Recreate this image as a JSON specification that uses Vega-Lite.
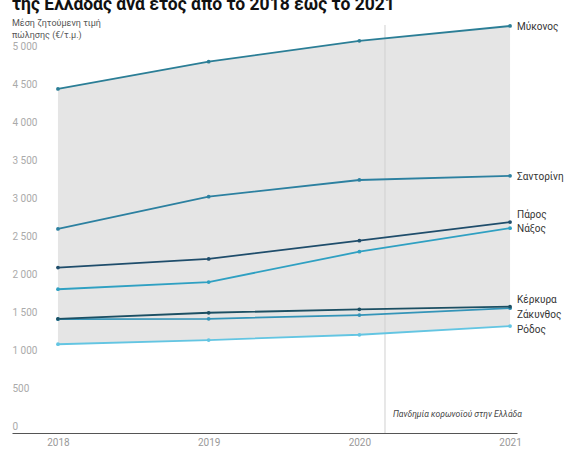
{
  "$schema": "https://vega.github.io/schema/vega-lite/v6.json",
  "autosize": "none",
  "width": 505,
  "height": 408,
  "padding": {"left": 12, "top": 25, "right": 63, "bottom": 27},
  "background": "white",
  "config": {"view": {"stroke": null}, "font": "Roboto"},
  "title": {
    "text": "της Ελλάδας ανά έτος από το 2018 έως το 2021",
    "subtitle": ["Μέση ζητούμενη τιμή", "πώλησης (€/τ.μ.)"],
    "anchor": "start",
    "frame": "group",
    "fontSize": 17.5,
    "fontWeight": "bold",
    "color": "#111111",
    "subtitleFontSize": 9,
    "subtitleColor": "#555555",
    "subtitlePadding": 5,
    "subtitleLineHeight": 12,
    "offset": -18
  },
  "datasets": {
    "prices": [
      {"island": "Μύκονος", "year": 2018, "price": 4535},
      {"island": "Μύκονος", "year": 2019, "price": 4895},
      {"island": "Μύκονος", "year": 2020, "price": 5170},
      {"island": "Μύκονος", "year": 2021, "price": 5365},
      {"island": "Σαντορίνη", "year": 2018, "price": 2690},
      {"island": "Σαντορίνη", "year": 2019, "price": 3115},
      {"island": "Σαντορίνη", "year": 2020, "price": 3335},
      {"island": "Σαντορίνη", "year": 2021, "price": 3390},
      {"island": "Νάξος", "year": 2018, "price": 1895},
      {"island": "Νάξος", "year": 2019, "price": 1990},
      {"island": "Νάξος", "year": 2020, "price": 2390},
      {"island": "Νάξος", "year": 2021, "price": 2700},
      {"island": "Πάρος", "year": 2018, "price": 2180},
      {"island": "Πάρος", "year": 2019, "price": 2295},
      {"island": "Πάρος", "year": 2020, "price": 2535},
      {"island": "Πάρος", "year": 2021, "price": 2780},
      {"island": "Ρόδος", "year": 2018, "price": 1170},
      {"island": "Ρόδος", "year": 2019, "price": 1225},
      {"island": "Ρόδος", "year": 2020, "price": 1295},
      {"island": "Ρόδος", "year": 2021, "price": 1410},
      {"island": "Ζάκυνθος", "year": 2018, "price": 1500},
      {"island": "Ζάκυνθος", "year": 2019, "price": 1505},
      {"island": "Ζάκυνθος", "year": 2020, "price": 1555},
      {"island": "Ζάκυνθος", "year": 2021, "price": 1645},
      {"island": "Κέρκυρα", "year": 2018, "price": 1505},
      {"island": "Κέρκυρα", "year": 2019, "price": 1585},
      {"island": "Κέρκυρα", "year": 2020, "price": 1630},
      {"island": "Κέρκυρα", "year": 2021, "price": 1665}
    ],
    "notes": [
      {"year": 2020.17, "price": 254, "label": "Πανδημία κορωνοϊού στην Ελλάδα"}
    ]
  },
  "encoding": {
    "x": {
      "field": "year",
      "type": "quantitative",
      "scale": {"domain": [2017.695, 2021.046], "nice": false, "zero": false},
      "axis": {
        "values": [2018, 2019, 2020, 2021],
        "format": "d",
        "title": null,
        "grid": false,
        "ticks": false,
        "tickSize": 0,
        "labelPadding": 4,
        "labelColor": "#999999",
        "labelFontSize": 10,
        "domainColor": "#555555",
        "domainWidth": 1.2
      }
    },
    "y": {
      "field": "price",
      "type": "quantitative",
      "scale": {"domain": [0, 5378], "nice": false, "zero": true},
      "axis": {
        "values": [0, 500, 1000, 1500, 2000, 2500, 3000, 3500, 4000, 4500, 5000],
        "labelExpr": "replace(format(datum.value, ','), ',', ' ')",
        "title": null,
        "grid": false,
        "domain": false,
        "ticks": false,
        "tickSize": 0,
        "labelAlign": "left",
        "labelBaseline": "alphabetic",
        "labelPadding": 0,
        "labelOffset": -4,
        "labelColor": "#aaaaaa",
        "labelFontSize": 10
      }
    }
  },
  "layer": [
    {
      "data": {"name": "prices"},
      "transform": [
        {"aggregate": [
          {"op": "max", "field": "price", "as": "hi"},
          {"op": "min", "field": "price", "as": "lo"}
        ], "groupby": ["year"]}
      ],
      "mark": {"type": "area", "color": "#e5e5e5", "opacity": 1},
      "encoding": {
        "y": {"field": "hi", "type": "quantitative"},
        "y2": {"field": "lo"}
      }
    },
    {
      "data": {"name": "notes"},
      "mark": {"type": "rule", "color": "#d0d0d0", "strokeWidth": 1},
      "encoding": {"x": {"field": "year", "type": "quantitative"}, "y": null}
    },
    {
      "data": {"name": "notes"},
      "mark": {"type": "text", "align": "left", "baseline": "middle", "dx": 8, "fontStyle": "italic", "fontSize": 8.5, "color": "#444444"},
      "encoding": {"text": {"field": "label"}}
    },
    {
      "data": {"name": "prices"},
      "mark": {"type": "line", "strokeWidth": 1.8},
      "encoding": {
        "color": {
          "field": "island",
          "type": "nominal",
          "legend": null,
          "scale": {
            "domain": ["Μύκονος", "Σαντορίνη", "Νάξος", "Πάρος", "Ρόδος", "Ζάκυνθος", "Κέρκυρα"],
            "range": ["#2b7e96", "#2c80a0", "#2fa0c2", "#1f4d6b", "#63c5e2", "#3394b8", "#1c4f63"]
          }
        }
      }
    },
    {
      "data": {"name": "prices"},
      "mark": {"type": "point", "filled": true, "size": 14, "opacity": 1},
      "encoding": {"color": {"field": "island", "type": "nominal", "legend": null}}
    },
    {
      "data": {"name": "prices"},
      "transform": [{"filter": "datum.year == 2021 && (datum.island == 'Μύκονος' || datum.island == 'Σαντορίνη' || datum.island == 'Νάξος')"}],
      "mark": {"type": "text", "align": "left", "baseline": "middle", "dx": 7, "dy": 1, "fontSize": 10, "color": "#333333"},
      "encoding": {"text": {"field": "island"}}
    },
    {
      "data": {"name": "prices"},
      "transform": [{"filter": "datum.year == 2021 && (datum.island == 'Πάρος' || datum.island == 'Κέρκυρα')"}],
      "mark": {"type": "text", "align": "left", "baseline": "middle", "dx": 7, "dy": -7, "fontSize": 10, "color": "#333333"},
      "encoding": {"text": {"field": "island"}}
    },
    {
      "data": {"name": "prices"},
      "transform": [{"filter": "datum.year == 2021 && datum.island == 'Ζάκυνθος'"}],
      "mark": {"type": "text", "align": "left", "baseline": "middle", "dx": 7, "dy": 7, "fontSize": 10, "color": "#333333"},
      "encoding": {"text": {"field": "island"}}
    },
    {
      "data": {"name": "prices"},
      "transform": [{"filter": "datum.year == 2021 && datum.island == 'Ρόδος'"}],
      "mark": {"type": "text", "align": "left", "baseline": "middle", "dx": 7, "dy": 4, "fontSize": 10, "color": "#333333"},
      "encoding": {"text": {"field": "island"}}
    }
  ]
}
